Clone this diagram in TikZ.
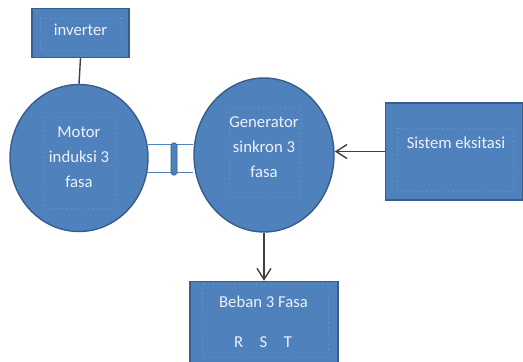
\documentclass[tikz,border=0pt]{standalone}
\usepackage{fontspec}
\setmainfont{Carlito}
\usetikzlibrary{positioning,shapes.geometric,arrows.meta}
\definecolor{ppblue}{RGB}{79,129,189}
\definecolor{ppedge}{RGB}{56,93,138}
\definecolor{pptext}{RGB}{236,241,250}
\definecolor{ppdot}{RGB}{112,152,204}
\definecolor{wire}{RGB}{64,64,64}

\begin{document}
\begin{tikzpicture}[>={Straight Barb[length=2.2mm,width=2.8mm]},
		blok/.style={rectangle,draw=ppedge,fill=ppblue,line width=0.8pt},
		mesin/.style={ellipse,draw=ppedge,fill=ppblue,line width=0.8pt},
		teks/.style={text=pptext,align=center,font=\fontsize{9.5}{14.2}\selectfont},
		bingkai/.style={draw=ppdot,dotted,line width=0.5pt},
		kabel/.style={draw=wire,line width=0.8pt}]
		\useasboundingbox (0,0) rectangle (10.46,-7.22);

		% blocks
		\node[blok,minimum width=1.94cm,minimum height=0.98cm] (inv) at (1.61,-0.66) {};
		\node[mesin,minimum width=2.76cm,minimum height=2.94cm] (motor) at (1.58,-3.16) {};
		\node[mesin,minimum width=2.80cm,minimum height=3.08cm] (gen) at (5.28,-3.10) {};
		\node[blok,minimum width=2.74cm,minimum height=1.94cm] (sis) at (9.08,-3.03) {};
		\node[blok,minimum width=2.96cm,minimum height=1.80cm,anchor=north,
			below=0.96cm of gen] (beban) {};

		% text frames
		\draw[bingkai] (0.80,-0.36) rectangle (2.42,-1.00);
		\draw[bingkai] (0.86,-2.34) rectangle (2.30,-4.16);
		\draw[bingkai] (4.58,-2.16) rectangle (6.00,-3.94);
		\draw[bingkai] (7.94,-2.56) rectangle (10.26,-3.82);
		\draw[bingkai] (4.04,-5.68) rectangle (6.56,-7.14);

		% labels
		\node[teks] (invtxt) at (1.61,-0.60) {inverter};
		\node[teks] (motortxt) at (1.58,-3.14) {Motor\\induksi 3\\fasa};
		\node[teks] (gentxt) at (5.28,-2.94) {Generator\\sinkron 3\\fasa};
		\node[teks] (sistxt) at (9.12,-2.86) {Sistem eksitasi};
		\node[teks] (bebantxt) at (5.27,-6.04) {Beban 3 Fasa};
		\node[teks] (fasatxt) at (5.26,-6.84) {R\hspace{3.3mm}S\hspace{3.3mm}T};

		% shaft and coupling
		\draw[ppblue,line width=0.8pt] (motor.11) -- (motor.11 -| gen.west)
			(motor.-12) -- (motor.-12 -| gen.west);
		\node[rectangle,rounded corners=1pt,draw=ppedge,fill=ppblue,inner sep=0pt,
			minimum width=0.12cm,minimum height=0.64cm] (kopling) at (3.48,-3.18) {};

		% connections
		\draw[kabel] (inv.south) -- (motor.north);
		\draw[kabel,->] (sis.west) -- (sis.west -| gen.east);
		\draw[kabel,->] (gen.south) -- (beban.north);
	\end{tikzpicture}
\end{document}
